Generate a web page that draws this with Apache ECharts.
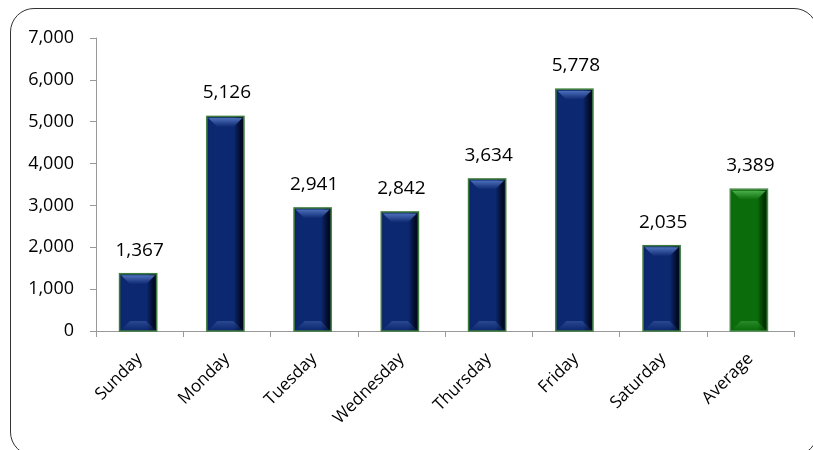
<!DOCTYPE html>
<html>
<head>
<meta charset="utf-8">
<script src="https://cdn.jsdelivr.net/npm/echarts@6/dist/echarts.min.js"></script>
<style>
  html, body { margin: 0; padding: 0; background: #fff; }
  #wrap { position: relative; width: 813px; height: 450px; overflow: hidden; }
  #frame { position: absolute; left: 10px; top: 8px; width: 808px; height: 448px;
           border: 1.5px solid #333; border-radius: 24px; box-sizing: border-box; }
  #chart { position: absolute; left: 0; top: 0; width: 813px; height: 450px; }
</style>
</head>
<body>
<div id="wrap">
  <div id="frame"></div>
  <div id="chart"></div>
</div>
<script>
// Daily totals by weekday, plus the weekly average
const categories = ['Sunday', 'Monday', 'Tuesday', 'Wednesday', 'Thursday', 'Friday', 'Saturday', 'Average'];
const values = [1367, 5126, 2941, 2842, 3634, 5778, 2035, 3389];
const yTicks = [0, 1000, 2000, 3000, 4000, 5000, 6000, 7000];

const FONT = '"Open Sans", "Noto Sans", sans-serif';
const BAR_W = 37;
const BEVEL = 9;

// Bevelled bar palettes: face, left edge, right shadow, bevel highlight, outline
const palettes = {
  day: { face: '#0c2870', left: '#0a215f', right: '#020a26', light: '#5578c4', outline: '#3d7a3d' },
  avg: { face: '#0a6c0a', left: '#086008', right: '#023202', light: '#52b852', outline: '#4a8a4a' }
};

const fmt = v => v.toLocaleString('en-US');

function renderBar(params, api) {
  const idx = api.value(0);
  const val = api.value(1);
  const top = api.coord([idx, val]);
  const base = api.coord([idx, 0]);
  const p = idx === categories.length - 1 ? palettes.avg : palettes.day;
  const x0 = top[0] - BAR_W / 2 - 1.5;
  const x1 = x0 + BAR_W;
  const y0 = top[1];
  const y1 = base[1];
  const h = y1 - y0;
  const b = Math.min(BEVEL, h / 3);

  const faceFill = new echarts.graphic.LinearGradient(0, 0, 1, 0, [
    { offset: 0, color: p.left },
    { offset: 0.1, color: p.face },
    { offset: 0.72, color: p.face },
    { offset: 0.9, color: p.right },
    { offset: 1, color: p.right }
  ]);
  const topFill = new echarts.graphic.LinearGradient(0, 0, 0, 1, [
    { offset: 0, color: p.light },
    { offset: 1, color: p.face }
  ]);
  const bottomFill = new echarts.graphic.LinearGradient(0, 1, 0, 0, [
    { offset: 0, color: p.face },
    { offset: 1, color: p.light }
  ]);

  return {
    type: 'group',
    children: [
      { type: 'rect', shape: { x: x0 - 1, y: y0 - 1, width: BAR_W + 2, height: h + 1 },
        style: { fill: 'rgba(120,170,120,0.35)' } },
      { type: 'rect', shape: { x: x0, y: y0, width: BAR_W, height: h },
        style: { fill: faceFill, stroke: p.outline, lineWidth: 1.5 } },
      { type: 'polygon',
        shape: { points: [[x0 + 1.5, y0 + 1.5], [x1 - 1.5, y0 + 1.5], [x1 - 1.5 - b, y0 + 1.5 + b], [x0 + 1.5 + b, y0 + 1.5 + b]] },
        style: { fill: topFill, opacity: 0.9 } },
      { type: 'polygon',
        shape: { points: [[x0 + 1.5, y1 - 1], [x1 - 1.5, y1 - 1], [x1 - 1.5 - b, y1 - 1 - b], [x0 + 1.5 + b, y1 - 1 - b]] },
        style: { fill: bottomFill, opacity: 0.4 } },
      { type: 'text',
        style: { x: top[0], y: y0 - 14, text: fmt(val), fill: '#000',
                 font: '19px ' + FONT, align: 'center', verticalAlign: 'bottom' } }
    ]
  };
}

const chart = echarts.init(document.getElementById('chart'), null, { renderer: 'canvas' });
chart.setOption({
  animation: false,
  grid: { left: 96, right: 19, top: 38, bottom: 119, containLabel: false },
  xAxis: {
    type: 'category',
    data: categories,
    axisLine: { lineStyle: { color: '#999', width: 1 } },
    axisTick: { show: true, length: 6, lineStyle: { color: '#999' } },
    axisLabel: { rotate: 45, color: '#000', fontFamily: FONT, fontSize: 17, margin: 25 }
  },
  yAxis: {
    type: 'value',
    min: yTicks[0],
    max: yTicks[yTicks.length - 1],
    interval: 1000,
    axisLine: { show: true, lineStyle: { color: '#999', width: 1 } },
    axisTick: { show: true, length: 6, lineStyle: { color: '#999' } },
    splitLine: { show: false },
    axisLabel: { color: '#000', fontFamily: FONT, fontSize: 18, margin: 22, formatter: v => fmt(v) }
  },
  series: [{
    type: 'custom',
    renderItem: renderBar,
    encode: { x: 0, y: 1 },
    data: values.map((v, i) => [i, v]),
    z: 3
  }]
});
</script>
</body>
</html>
